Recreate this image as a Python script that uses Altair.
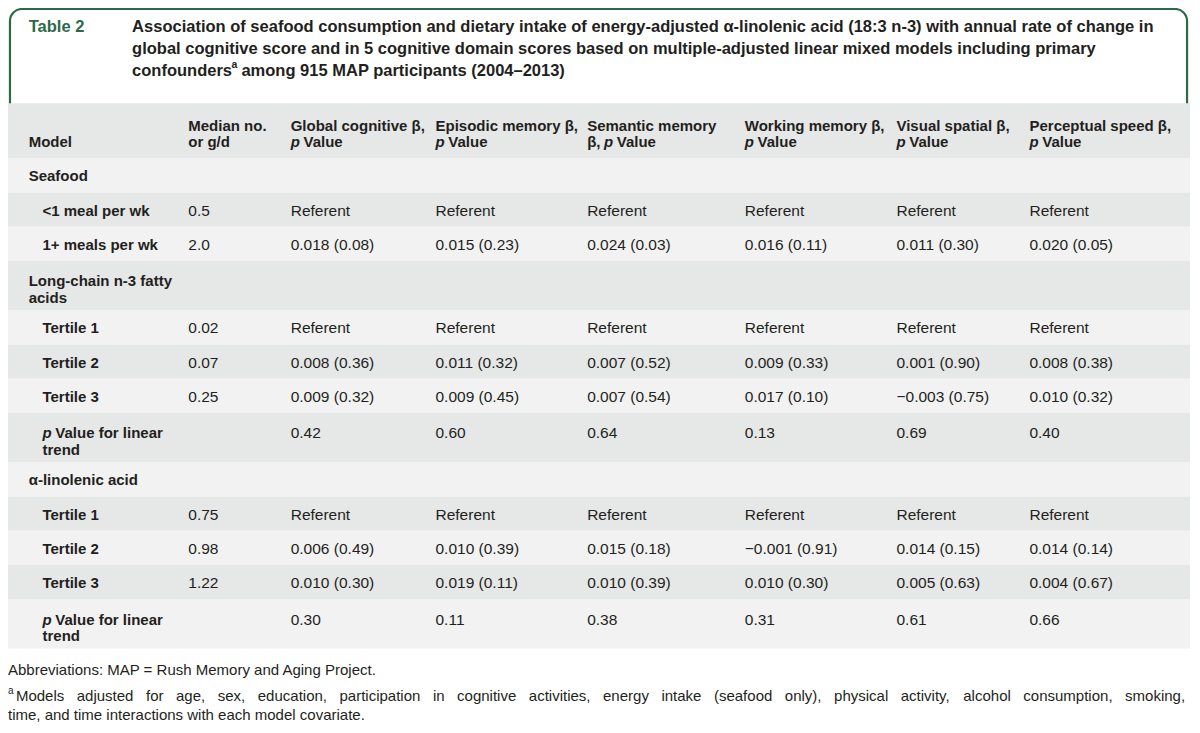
import altair as alt
import pandas as pd

# ---------------- data ----------------
table_tag = "Table 2"
title_lines = [
    "Association of seafood consumption and dietary intake of energy-adjusted \u03b1-linolenic acid (18:3 n-3) with annual rate of change in",
    "global cognitive score and in 5 cognitive domain scores based on multiple-adjusted linear mixed models including primary",
    "confounders",
]
title_tail = "among 915 MAP participants (2004\u20132013)"
sup_mark = "a"

stub_header = "Model"
col_head_top = ["Median no.", "Global cognitive \u03b2,", "Episodic memory \u03b2,", "Semantic memory",
                "Working memory \u03b2,", "Visual spatial \u03b2,", "Perceptual speed \u03b2,"]
col_head_bottom = ["or g/d", "p Value", "p Value", "\u03b2, p Value", "p Value", "p Value", "p Value"]

row_labels = ["Seafood", "<1 meal per wk", "1+ meals per wk", "Long-chain n-3 fatty\nacids",
              "Tertile 1", "Tertile 2", "Tertile 3", "p Value for linear\ntrend",
              "\u03b1-linolenic acid", "Tertile 1", "Tertile 2", "Tertile 3", "p Value for linear\ntrend"]
row_is_sub = [False, True, True, False, True, True, True, True, False, True, True, True, True]
median_vals = ["", "0.5", "2.0", "", "0.02", "0.07", "0.25", "", "", "0.75", "0.98", "1.22", ""]
global_vals = ["", "Referent", "0.018 (0.08)", "", "Referent", "0.008 (0.36)", "0.009 (0.32)", "0.42",
               "", "Referent", "0.006 (0.49)", "0.010 (0.30)", "0.30"]
episodic_vals = ["", "Referent", "0.015 (0.23)", "", "Referent", "0.011 (0.32)", "0.009 (0.45)", "0.60",
                 "", "Referent", "0.010 (0.39)", "0.019 (0.11)", "0.11"]
semantic_vals = ["", "Referent", "0.024 (0.03)", "", "Referent", "0.007 (0.52)", "0.007 (0.54)", "0.64",
                 "", "Referent", "0.015 (0.18)", "0.010 (0.39)", "0.38"]
working_vals = ["", "Referent", "0.016 (0.11)", "", "Referent", "0.009 (0.33)", "0.017 (0.10)", "0.13",
                "", "Referent", "\u22120.001 (0.91)", "0.010 (0.30)", "0.31"]
visual_vals = ["", "Referent", "0.011 (0.30)", "", "Referent", "0.001 (0.90)", "\u22120.003 (0.75)", "0.69",
               "", "Referent", "0.014 (0.15)", "0.005 (0.63)", "0.61"]
perceptual_vals = ["", "Referent", "0.020 (0.05)", "", "Referent", "0.008 (0.38)", "0.010 (0.32)", "0.40",
                   "", "Referent", "0.014 (0.14)", "0.004 (0.67)", "0.66"]

footer_abbrev = "Abbreviations: MAP = Rush Memory and Aging Project."
footnote_lines = [
    "Models adjusted for age, sex, education, participation in cognitive activities, energy intake (seafood only), physical activity, alcohol consumption, smoking,",
    "time, and time interactions with each model covariate.",
]

# ---------------- layout / style ----------------
FONT = "Liberation Sans"
INK = "#231f20"
GREEN = "#2b6a47"
DARK = "#e6e7e7"
LIGHT = "#f2f2f2"
W, H = 1182, 714
SX = W / 1200.0
xs = alt.Scale(domain=[0, 1200], range=[0, W])
ys = alt.Scale(domain=[0, 728], range=[0, H])

COL_X = [183, 287, 434, 588, 748, 902, 1037]
STUB_X, SUB_X = 21, 35
P_W, B_W = 13, 17
TABLE_TOP, HEAD_H, ROW_H1, ROW_H2, LINE = 97, 56, 35, 50, 17
TITLE_SIZE, HEAD_SIZE, BODY_SIZE, FOOT_SIZE = 16.5, 15, 15.5, 15

# approximate glyph advance widths (Arial metrics, 1/1000 em) for justifying a line
ADV = {" ": 278, ",": 278, ".": 278, "(": 333, ")": 333, "-": 333, "M": 833, "a": 556, "b": 556,
       "c": 500, "d": 556, "e": 556, "f": 278, "g": 556, "h": 556, "i": 222, "j": 222, "k": 500,
       "l": 222, "m": 833, "n": 556, "o": 556, "p": 556, "r": 333, "s": 500, "t": 278, "u": 556,
       "v": 500, "w": 722, "x": 500, "y": 500}

texts = []  # dicts: x, y, text, weight, style, size, color


def add(x, y, t, weight="normal", style="normal", size=BODY_SIZE, color=INK):
    texts.append(dict(x=x, y=y, text=t, weight=weight, style=style, size=size, color=color))


def add_line(x, y, line, weight, size=HEAD_SIZE):
    if line.startswith("p "):
        add(x, y, "p", weight, "italic", size)
        add(x + P_W, y, line[2:], weight, size=size)
    elif line.startswith("\u03b2, p "):
        add(x, y, "\u03b2,", weight, size=size)
        add(x + B_W, y, "p", weight, "italic", size)
        add(x + B_W + P_W, y, line[5:], weight, size=size)
    else:
        add(x, y, line, weight, size=size)


def add_justified(x0, x1, y, line, size):
    words = line.split(" ")
    wid = [sum(ADV.get(c, 556) for c in w) * size / 1000.0 / SX for w in words]
    gap = (x1 - x0 - sum(wid)) / (len(words) - 1)
    x = x0
    for w, ww in zip(words, wid):
        add(x, y, w, size=size)
        x += ww + gap


# title block
add(21, 19, table_tag, "bold", size=TITLE_SIZE, color=GREEN)
for i, ln in enumerate(title_lines):
    add(126, 19 + 22.5 * i, ln, "bold", size=TITLE_SIZE)
add(126 + 101, 58, sup_mark, "bold", size=10.5)
add(126 + 111, 64, title_tail, "bold", size=TITLE_SIZE)

# bands + table text
bands = []
head_bot = TABLE_TOP + HEAD_H
bands.append(dict(y=TABLE_TOP, y2=head_bot, c=DARK))
add(STUB_X, head_bot - 16, stub_header, "bold", size=HEAD_SIZE)
for cx, t1, t2 in zip(COL_X, col_head_top, col_head_bottom):
    add_line(cx, head_bot - 33, t1, "bold")
    add_line(cx, head_bot - 16, t2, "bold")

top = head_bot
cols = [median_vals, global_vals, episodic_vals, semantic_vals, working_vals, visual_vals, perceptual_vals]
for i, lab in enumerate(row_labels):
    lines = lab.split("\n")
    h = ROW_H1 if len(lines) == 1 else ROW_H2
    bands.append(dict(y=top, y2=top + h, c=LIGHT if i % 2 == 0 else DARK))
    y0 = top + (18.5 if len(lines) == 1 else 20.5)
    lx = SUB_X if row_is_sub[i] else STUB_X
    for k, ln in enumerate(lines):
        add_line(lx, y0 + LINE * k, ln, "bold")
    for cx, vals in zip(COL_X, cols):
        if vals[i]:
            add(cx, y0, vals[i])
    top += h

# footer
add(0, 675, footer_abbrev, size=FOOT_SIZE)
add(0, 696, sup_mark, size=10)
add_justified(8, 1195, 701, footnote_lines[0], FOOT_SIZE)
add(0, 721, footnote_lines[1], size=FOOT_SIZE)

# ---------------- chart ----------------
X = lambda f: alt.X(f, scale=xs, axis=None)
Y = lambda f: alt.Y(f, scale=ys, axis=None)

border = alt.Chart(pd.DataFrame([dict(x=2, x2=1197, y=1, y2=130)])).mark_rect(
    fill="white", stroke=GREEN, strokeWidth=2.2, cornerRadius=12
).encode(x=X("x:Q"), x2="x2:Q", y=Y("y:Q"), y2="y2:Q")

band_df = pd.DataFrame(bands)
band_df["x"], band_df["x2"] = 0, 1200
band_layer = alt.Chart(band_df).mark_rect().encode(
    x=X("x:Q"), x2="x2:Q", y=Y("y:Q"), y2="y2:Q", color=alt.Color("c:N", scale=None)
)

layers = [border, band_layer]
tdf = pd.DataFrame(texts)
for (wt, st, sz, col), g in tdf.groupby(["weight", "style", "size", "color"]):
    layers.append(
        alt.Chart(g.reset_index(drop=True)).mark_text(
            align="left", baseline="middle", font=FONT, fontSize=float(sz),
            fontWeight=wt, fontStyle=st, color=col
        ).encode(x=X("x:Q"), y=Y("y:Q"), text="text:N")
    )

chart = alt.layer(*layers).properties(
    width=W, height=H, padding=0, autosize=alt.AutoSizeParams(type="none"), background="white"
).configure_view(stroke=None)

chart.save("out.html", embed_options={"renderer": "svg", "actions": False})
